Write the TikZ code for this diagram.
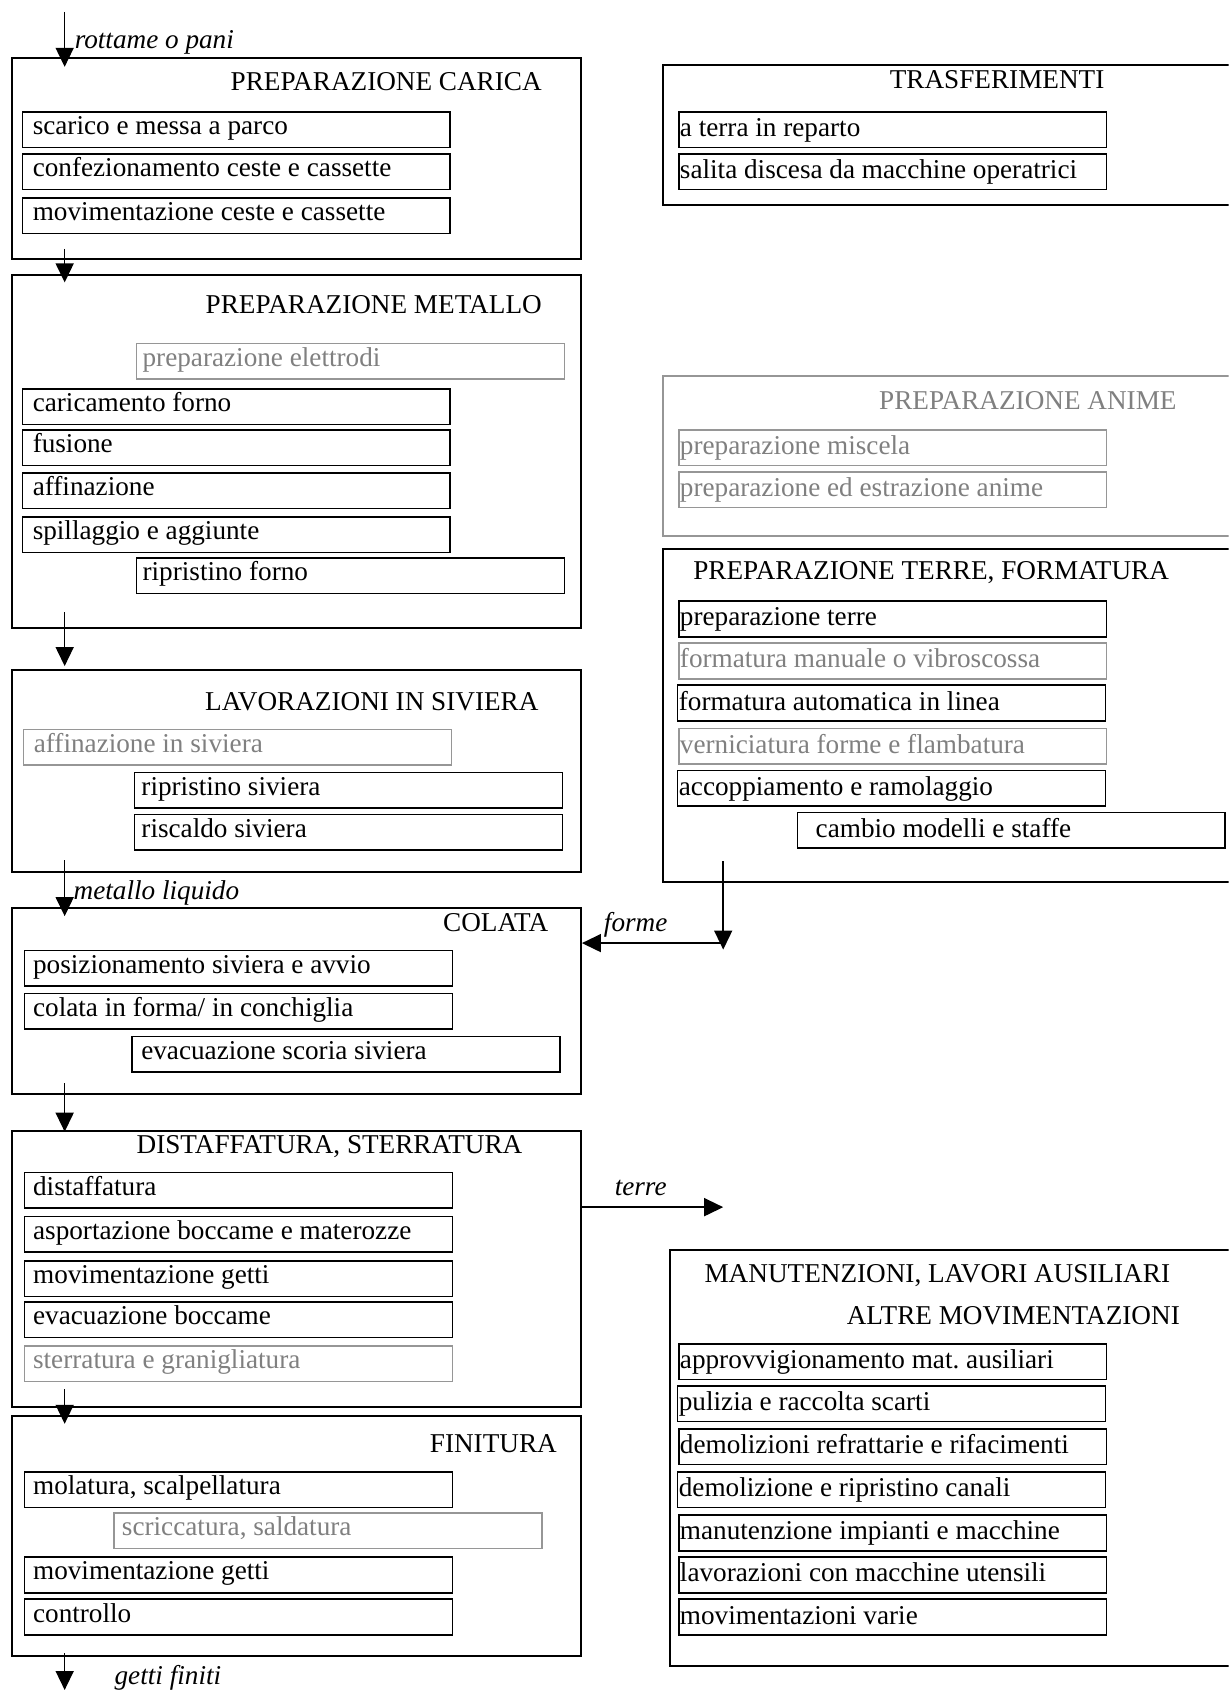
\documentclass[tikz,border=0pt]{standalone}
\usepackage{fontspec}
\setmainfont{Liberation Serif}
\usetikzlibrary{arrows.meta,fit}
\definecolor{gtext}{RGB}{128,128,128}
\definecolor{gline}{RGB}{150,150,150}
\tikzset{
  txt/.style={font=\fontsize{13.6pt}{16pt}\selectfont},
  outer/.style={draw, line width=1pt, inner sep=0pt},
  sb/.style={txt, draw, line width=0.8pt, anchor=north west, inner sep=0pt,
    text width=214pt, minimum height=17.8pt, text height=7.6pt, text depth=2.6pt,
    align=flush left, execute at begin node={\frenchspacing\hspace*{#1}}},
  sb/.default=5.2pt,
  greyed/.style={draw=gline, text=gtext},
  rt/.style={text height=8.6pt, text depth=1.6pt},
  title/.style={txt, anchor=base east, inner sep=0pt},
  lab/.style={anchor=base west, inner sep=0pt, font=\fontsize{13.6pt}{16pt}\selectfont\itshape},
  arr/.style={line width=0.75pt, -{Triangle[length=9.5pt,width=9pt]}},
}
\begin{document}
\begin{tikzpicture}[x=0.539pt,y=-0.539pt]
\useasboundingbox (0,0) rectangle (1140,1568);
\clip (0,0) rectangle (1140,1568);
\fill[white] (0,0) rectangle (1140,1568);

% ---------- left column outer boxes
\node[outer, fit={(11,54)(539,240)}] (A) {};
\node[outer, fit={(11,255)(539,583)}] (B) {};
\node[outer, fit={(11,622)(539,809)}] (C) {};
\node[outer, fit={(11,842)(539,1015)}] (D) {};
\node[outer, fit={(11,1049)(539,1305)}] (E) {};
\node[outer, fit={(11,1314)(539,1536)}] (F) {};

% ---------- right column outer boxes
\node[outer, fit={(615,60)(1170,190)}] (T) {};
\node[outer, draw=gline, fit={(615,349)(1170,497)}] (N) {};
\node[outer, fit={(615,509)(1170,818)}] (R) {};
\node[outer, fit={(622,1160)(1170,1546)}] (M) {};

% ---------- titles
\node[title] (tA) at (503,84) {PREPARAZIONE CARICA};
\node[title] (tB) at (503,291) {PREPARAZIONE METALLO};
\node[title] (tC) at (500,659) {LAVORAZIONI IN SIVIERA};
\node[title] (tD) at (509,864) {COLATA};
\node[title] (tE) at (485,1070) {DISTAFFATURA, STERRATURA};
\node[title] (tF) at (517,1348) {FINITURA};
\node[title] (tT) at (1025,82) {TRASFERIMENTI};
\node[title, text=gtext] (tN) at (1092,380) {PREPARAZIONE ANIME};
\node[title] (tR) at (1085,538) {PREPARAZIONE TERRE, FORMATURA};
\node[title] (tM1) at (1086,1190) {MANUTENZIONI, LAVORI AUSILIARI};
\node[title] (tM2) at (1095,1229) {ALTRE MOVIMENTAZIONI};

% ---------- A
\node[sb] (a1) at (20,103) {scarico e messa a parco};
\node[sb] (a2) at (20,142) {confezionamento ceste e cassette};
\node[sb] (a3) at (20,183) {movimentazione ceste e cassette};

% ---------- B
\node[sb=3pt, greyed] (b0) at (126,318) {preparazione elettrodi};
\node[sb] (b1) at (20,360) {caricamento forno};
\node[sb] (b2) at (20,398) {fusione};
\node[sb] (b3) at (20,438) {affinazione};
\node[sb] (b4) at (20,479) {spillaggio e aggiunte};
\node[sb=3pt] (b5) at (126,517) {ripristino forno};

% ---------- C
\node[sb, greyed] (c1) at (21,676) {affinazione in siviera};
\node[sb=3.5pt] (c2) at (124,716) {ripristino siviera};
\node[sb=3.5pt] (c3) at (124,755) {riscaldo siviera};

% ---------- D
\node[sb=4.3pt] (d1) at (22,881) {posizionamento siviera e avvio};
\node[sb=4.3pt] (d2) at (22,921) {colata in forma/ in conchiglia};
\node[sb=4.5pt] (d3) at (122,961) {evacuazione scoria siviera};

% ---------- E
\node[sb=4.3pt] (e1) at (22,1087) {distaffatura};
\node[sb=4.3pt] (e2) at (22,1128) {asportazione boccame e materozze};
\node[sb=4.3pt] (e3) at (22,1169) {movimentazione getti};
\node[sb=4.3pt] (e4) at (22,1207) {evacuazione boccame};
\node[sb=4.3pt, greyed] (e5) at (22,1248) {sterratura e granigliatura};

% ---------- F
\node[sb=4.3pt] (f1) at (22,1365) {molatura, scalpellatura};
\node[sb=4pt, greyed] (f2) at (105,1403) {scriccatura, saldatura};
\node[sb=4.3pt] (f3) at (22,1444) {movimentazione getti};
\node[sb=4.3pt] (f4) at (22,1483) {controllo};

% ---------- T
\node[sb=0.6pt, rt] (t1) at (629,103) {a terra in reparto};
\node[sb=0.6pt, rt] (t2) at (629,142) {salita discesa da macchine operatrici};

% ---------- N (anime)
\node[sb=0.6pt, rt, greyed] (n1) at (629,398) {preparazione miscela};
\node[sb=0.6pt, rt, greyed] (n2) at (629,437) {preparazione ed estrazione anime};

% ---------- R (terre)
\node[sb=0.6pt, rt] (r1) at (629,557) {preparazione terre};
\node[sb=0.6pt, rt, greyed] (r2) at (629,596) {formatura manuale o vibroscossa};
\node[sb=0.6pt, rt] (r3) at (628,635) {formatura automatica in linea};
\node[sb=0.6pt, rt, greyed] (r4) at (629,675) {verniciatura forme e flambatura};
\node[sb=0.6pt, rt] (r5) at (628,714) {accoppiamento e ramolaggio};
\node[sb=9.2pt, rt] (r6) at (739,753) {cambio modelli e staffe};

% ---------- M
\node[sb=0.6pt, rt] (m1) at (629,1246) {approvvigionamento mat. ausiliari};
\node[sb=0.6pt, rt] (m2) at (628,1285) {pulizia e raccolta scarti};
\node[sb=0.6pt, rt] (m3) at (629,1325) {demolizioni refrattarie e rifacimenti};
\node[sb=0.6pt, rt] (m4) at (628,1365) {demolizione e ripristino canali};
\node[sb=0.6pt, rt] (m5) at (629,1405) {manutenzione impianti e macchine};
\node[sb=0.6pt, rt] (m6) at (629,1444) {lavorazioni con macchine utensili};
\node[sb=0.6pt, rt] (m7) at (629,1483) {movimentazioni varie};

% ---------- connectors
\coordinate (in0) at (60,11);
\coordinate (in1) at (60,62);
\coordinate (ab0) at (60,231);
\coordinate (ab1) at (60,262);
\coordinate (bc0) at (60,568);
\coordinate (bc1) at (60,618);
\coordinate (cd0) at (60,798);
\coordinate (cd1) at (60,850);
\coordinate (de0) at (60,1005);
\coordinate (de1) at (60,1050);
\coordinate (ef0) at (60,1289);
\coordinate (ef1) at (60,1321);
\coordinate (fo0) at (60,1534);
\coordinate (fo1) at (60,1568);
\coordinate (rd0) at (671,799);
\coordinate (rd1) at (671,881);
\coordinate (fm0) at (671,875);
\coordinate (tr1) at (671,1120);

\draw[arr] (in0) -- (in1);
\draw[arr] (ab0) -- (ab1);
\draw[arr] (bc0) -- (bc1);
\draw[arr] (cd0) -- (cd1);
\draw[arr] (de0) -- (de1);
\draw[arr] (ef0) -- (ef1);
\draw[arr] (fo0) -- (fo1);
\draw[arr] (rd0) -- (rd1);
\draw[arr] (fm0) -- (fm0 -| D.east);
\draw[arr] (tr1 -| E.east) -- (tr1);

% ---------- labels
\node[lab] (l1) at (69,45) {rottame o pani};
\node[lab] (l2) at (68,835) {metallo liquido};
\node[lab] (l3) at (106,1563) {getti finiti};
\node[lab] (l4) at (560,864) {forme};
\node[lab] (l5) at (570,1109) {terre};
\end{tikzpicture}
\end{document}
